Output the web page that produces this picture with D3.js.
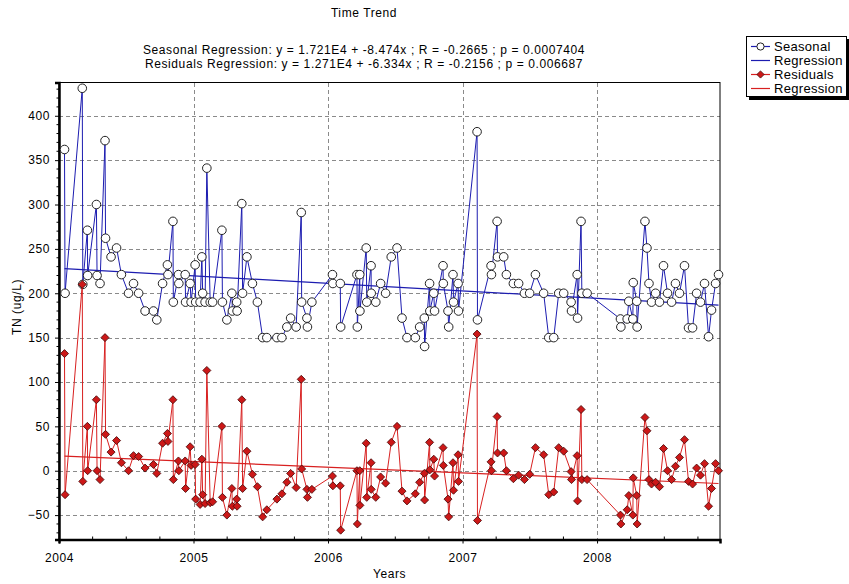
<!DOCTYPE html>
<html>
<head>
<meta charset="utf-8">
<script src="https://cdn.jsdelivr.net/npm/d3@7"></script>
<style>
  body { margin: 0; background: #fff; }
  text { font-family: "Liberation Sans", Arial, sans-serif; fill: #000; letter-spacing: 0.6px; }
</style>
</head>
<body>
<svg id="chart" width="849" height="584"></svg>
<script>
// Sample dates as decimal years
const years = [
  2004.041, 2004.045, 2004.173, 2004.177, 2004.211, 2004.213, 2004.278, 2004.283, 2004.305, 2004.342,
  2004.346, 2004.387, 2004.428, 2004.464, 2004.517, 2004.554, 2004.592, 2004.640, 2004.702, 2004.727,
  2004.770, 2004.806, 2004.810, 2004.847, 2004.850, 2004.888, 2004.891, 2004.938, 2004.941, 2004.975,
  2004.982, 2005.012, 2005.016, 2005.049, 2005.062, 2005.068, 2005.086, 2005.099, 2005.124, 2005.142,
  2005.211, 2005.215, 2005.248, 2005.285, 2005.289, 2005.321, 2005.324, 2005.359, 2005.365, 2005.397,
  2005.438, 2005.475, 2005.514, 2005.545, 2005.620, 2005.657, 2005.694, 2005.722, 2005.763, 2005.801,
  2005.804, 2005.843, 2005.847, 2005.880, 2006.033, 2006.036, 2006.091, 2006.094, 2006.215, 2006.218,
  2006.236, 2006.237, 2006.284, 2006.288, 2006.320, 2006.321, 2006.355, 2006.391, 2006.428, 2006.470,
  2006.513, 2006.550, 2006.587, 2006.649, 2006.681, 2006.716, 2006.718, 2006.755, 2006.757, 2006.786,
  2006.792, 2006.855, 2006.857, 2006.892, 2006.897, 2006.929, 2006.933, 2006.967, 2006.970, 2007.108,
  2007.111, 2007.212, 2007.215, 2007.257, 2007.260, 2007.306, 2007.326, 2007.378, 2007.417, 2007.460,
  2007.499, 2007.542, 2007.603, 2007.641, 2007.678, 2007.715, 2007.752, 2007.807, 2007.810, 2007.852,
  2007.855, 2007.881, 2007.887, 2007.926, 2008.174, 2008.177, 2008.224, 2008.236, 2008.266, 2008.269,
  2008.295, 2008.298, 2008.356, 2008.371, 2008.386, 2008.405, 2008.435, 2008.464, 2008.494, 2008.524,
  2008.554, 2008.583, 2008.613, 2008.650, 2008.680, 2008.710, 2008.740, 2008.769, 2008.799, 2008.829,
  2008.851, 2008.881, 2008.903
];

// Seasonal TN concentration (ug/L)
const seasonal = [
  362, 200, 431, 210, 271, 220, 300, 220, 211, 372,
  262, 241, 251, 221, 200, 211, 200, 180, 180, 170,
  211, 232, 221, 281, 190, 221, 211, 221, 190, 211,
  190, 232, 190, 190, 241, 200, 190, 341, 190, 190,
  271, 190, 170, 200, 180, 190, 180, 301, 200, 241,
  211, 190, 150, 150, 150, 150, 162, 172, 162, 291,
  190, 172, 162, 190, 221, 211, 211, 162, 221, 162,
  221, 180, 251, 190, 231, 200, 190, 211, 200, 241,
  251, 172, 150, 150, 162, 172, 140, 211, 180, 200,
  180, 231, 211, 180, 162, 221, 190, 211, 180, 382,
  170, 231, 221, 281, 241, 241, 221, 211, 211, 200,
  200, 221, 200, 150, 150, 200, 200, 190, 180, 221,
  172, 281, 200, 200, 171, 162, 171, 191, 171, 212,
  191, 162, 281, 251, 211, 190, 200, 190, 231, 200,
  190, 211, 200, 231, 161, 161, 200, 190, 211, 151,
  181, 211, 221
];

// Residuals after removing the seasonal component (ug/L)
const residuals = [
  132, -27, 210, -12, 50, 0, 80, 0, -10, 150,
  41, 21, 34, 9, 0, 17, 16, 3, 7, -3,
  31, 42, 33, 80, -10, 11, 0, 11, -20, 27,
  6, 7, -32, -38, 13, -27, -37, 113, -36, -35,
  50, -30, -50, -20, -40, -32, -40, 80, -20, 22,
  -4, -18, -52, -44, -32, -26, -13, -3, -19, 103,
  2, -21, -30, -21, -6, -17, -17, -67, 0, -60,
  0, -39, 31, -30, 9, -21, -30, -7, -14, 32,
  50, -23, -34, -26, -13, -3, -33, 32, 1, 13,
  -6, 26, 6, -32, -52, 9, -22, 18, -12, 154,
  -56, 10, 0, 61, 20, 20, 0, -9, -5, -10,
  -4, 26, 18, -27, -24, 26, 22, -1, -10, 17,
  -34, 69, -10, -10, -50, -60, -44, -28, -50, -8,
  -28, -60, 60, 45, -10, -15, -13, -18, 25, 0,
  -10, 5, 15, 35, -12, -15, 3, -5, 8, -40,
  -20, 8, 0
];

const xTickYears = [2004, 2005, 2006, 2007, 2008];
const yTickValues = [-50, 0, 50, 100, 150, 200, 250, 300, 350, 400];

// Linear trend fits: y = intercept + slope * year
const fitNames = ["Seasonal", "Residuals"];
const fitIntercepts = [1.721E4, 1.271E4];
const fitSlopes = [-8.474, -6.334];
const fitR = [-0.2665, -0.2156];
const fitP = [0.0007404, 0.006687];

const legendLabels = ["Seasonal", "Regression", "Residuals", "Regression"];

const blue = "#1c1cb0";
const red = "#d82020";

const svg = d3.select("#chart");
const plot = { left: 59, right: 720, top: 82.5, bottom: 539.5 };

const x = d3.scaleLinear().domain([2004, 2008.914]).range([plot.left, plot.right]);
const y = d3.scaleLinear().domain([-77.5, 437.5]).range([plot.bottom, plot.top]);

// Titles
svg.append("text").attr("x", 364).attr("y", 17).attr("text-anchor", "middle")
  .style("font-size", "12px").text("Time Trend");

const fmtIntercept = v => v.toExponential(3).replace("e+", "E");
fitNames.forEach((name, i) => {
  svg.append("text").attr("x", 364).attr("y", 53.5 + i * 14.5).attr("text-anchor", "middle")
    .style("font-size", "12px")
    .text(`${name} Regression: y = ${fmtIntercept(fitIntercepts[i])} + ${fitSlopes[i]}x ; R = ${fitR[i]} ; p = ${fitP[i]}`);
});

// Grid
const grid = svg.append("g").attr("stroke", "#8a8a8a").attr("stroke-width", 1)
  .attr("stroke-dasharray", "4,3").attr("shape-rendering", "crispEdges");
grid.selectAll("line.h").data(yTickValues).join("line").attr("class", "h")
  .attr("x1", plot.left).attr("x2", plot.right)
  .attr("y1", d => Math.round(y(d)) + 0.5).attr("y2", d => Math.round(y(d)) + 0.5);
grid.selectAll("line.v").data(xTickYears.slice(1)).join("line").attr("class", "v")
  .attr("y1", plot.top).attr("y2", plot.bottom)
  .attr("x1", d => Math.round(x(d)) + 0.5).attr("x2", d => Math.round(x(d)) + 0.5);

// Frame
svg.append("rect").attr("x", plot.left).attr("y", plot.top)
  .attr("width", plot.right - plot.left).attr("height", plot.bottom - plot.top)
  .attr("fill", "none").attr("stroke", "#000").attr("stroke-width", 1);

// Axes
const xAxis = d3.axisBottom(x).tickValues(xTickYears).tickFormat(d3.format("d")).tickSize(4).tickPadding(10);
const gx = svg.append("g").attr("transform", `translate(0,${plot.bottom})`).call(xAxis);
const yAxis = d3.axisLeft(y).tickValues(yTickValues).tickSize(4).tickPadding(5);
const gy = svg.append("g").attr("transform", `translate(${plot.left},0)`).call(yAxis);
[gx, gy].forEach(g => {
  g.select(".domain").attr("stroke", "#000").attr("stroke-width", 2.5);
  g.selectAll(".tick line").attr("stroke", "#000");
  g.selectAll(".tick text").style("font-family", "'Liberation Sans', Arial, sans-serif")
    .style("font-size", "12px").style("letter-spacing", "0.6px").attr("fill", "#000");
});

// Minor ticks
const minorX = d3.range(2004, 2008.9, 0.25).filter(v => !xTickYears.includes(v));
svg.append("g").selectAll("line").data(minorX).join("line")
  .attr("x1", d => x(d)).attr("x2", d => x(d))
  .attr("y1", plot.bottom).attr("y2", plot.bottom - 3).attr("stroke", "#000");
const minorY = d3.range(-70, 431, 10).filter(v => !yTickValues.includes(v));
svg.append("g").selectAll("line").data(minorY).join("line")
  .attr("x1", plot.left).attr("x2", plot.left - 2.5)
  .attr("y1", d => y(d)).attr("y2", d => y(d)).attr("stroke", "#000");

// Axis titles
svg.append("text").attr("x", (plot.left + plot.right) / 2).attr("y", 578)
  .attr("text-anchor", "middle").style("font-size", "12px").text("Years");
svg.append("text").attr("transform", "translate(21,307) rotate(-90)")
  .attr("text-anchor", "middle").style("font-size", "12px").text("TN (ug/L)");

// Series
const idx = d3.range(years.length);
const lineS = d3.line().x(i => x(years[i])).y(i => y(seasonal[i]));
const lineR = d3.line().x(i => x(years[i])).y(i => y(residuals[i]));
const fitLine = k => d3.line().x(d => x(d)).y(d => y(fitIntercepts[k] + fitSlopes[k] * d));
const fitX = d3.extent(years);

const series = svg.append("g");
series.append("path").attr("d", lineS(idx)).attr("fill", "none").attr("stroke", blue).attr("stroke-width", 1);
series.append("path").attr("d", fitLine(0)(fitX)).attr("fill", "none").attr("stroke", blue).attr("stroke-width", 1.2);
series.selectAll("circle").data(idx).join("circle")
  .attr("cx", i => x(years[i])).attr("cy", i => y(seasonal[i])).attr("r", 4.3)
  .attr("fill", "#fff").attr("stroke", "#222").attr("stroke-width", 1);

series.append("path").attr("d", lineR(idx)).attr("fill", "none").attr("stroke", red).attr("stroke-width", 1);
series.append("path").attr("d", fitLine(1)(fitX)).attr("fill", "none").attr("stroke", red).attr("stroke-width", 1.2);
const diamond = d3.symbol().type(d3.symbolSquare).size(32);
series.selectAll("path.dm").data(idx).join("path").attr("class", "dm")
  .attr("d", diamond)
  .attr("transform", i => `translate(${x(years[i])},${y(residuals[i])}) rotate(45)`)
  .attr("fill", "#cc1818").attr("stroke", "#4a0808").attr("stroke-width", 0.8);

// Legend
const lg = svg.append("g").attr("transform", "translate(746,36)");
lg.append("rect").attr("x", 3).attr("y", 3).attr("width", 101).attr("height", 61).attr("fill", "#000");
lg.append("rect").attr("x", 0.5).attr("y", 0.5).attr("width", 100).attr("height", 60)
  .attr("fill", "#fff").attr("stroke", "#000");
const legendColors = [blue, blue, red, red];
legendLabels.forEach((lab, i) => {
  const cy = 10.5 + i * 14;
  lg.append("line").attr("x1", 5).attr("x2", 24).attr("y1", cy).attr("y2", cy)
    .attr("stroke", legendColors[i]).attr("stroke-width", 1.2);
  if (i === 0) lg.append("circle").attr("cx", 14.5).attr("cy", cy).attr("r", 3.6)
    .attr("fill", "#fff").attr("stroke", "#222");
  if (i === 2) lg.append("path").attr("d", d3.symbol().type(d3.symbolSquare).size(26))
    .attr("transform", `translate(14.5,${cy}) rotate(45)`).attr("fill", "#cc1818").attr("stroke", "#4a0808").attr("stroke-width", 0.8);
  lg.append("text").attr("x", 28).attr("y", cy + 4.5).style("font-size", "13px")
    .style("letter-spacing", "0.3px").text(lab);
});
</script>
</body>
</html>
